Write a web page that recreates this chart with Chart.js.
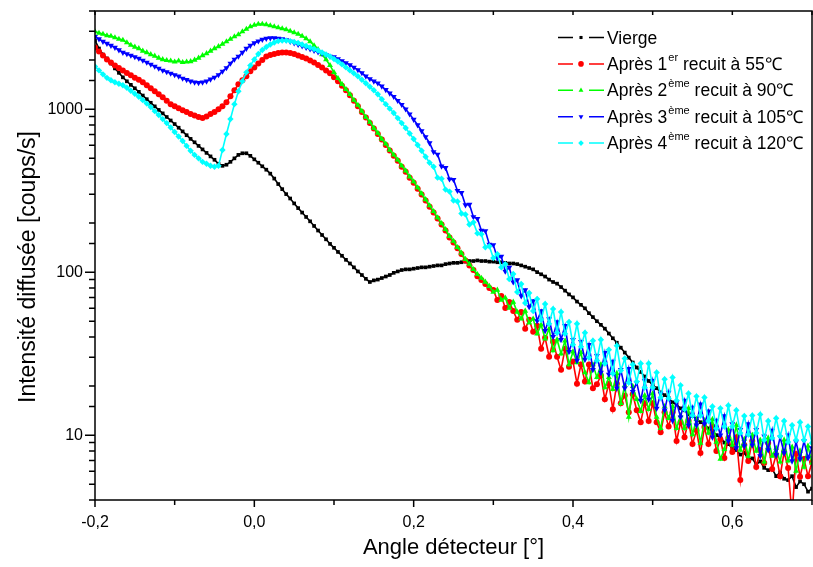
<!DOCTYPE html>
<html>
<head>
<meta charset="utf-8">
<script src="https://cdn.jsdelivr.net/npm/chart.js@4.4.0/dist/chart.umd.min.js"></script>
<style>
  body { margin: 0; background: #ffffff; }
</style>
</head>
<body>
<canvas id="saxs" width="813" height="567"></canvas>
<script>
// detector angle grid [deg]
const angles = [
  -0.2,-0.195,-0.19,-0.185,-0.18,-0.175,-0.17,-0.165,-0.16,-0.155,
  -0.15,-0.145,-0.14,-0.135,-0.13,-0.125,-0.12,-0.115,-0.11,-0.105,
  -0.1,-0.095,-0.09,-0.085,-0.08,-0.075,-0.07,-0.065,-0.06,-0.055,
  -0.05,-0.045,-0.04,-0.035,-0.03,-0.025,-0.02,-0.015,-0.01,-0.005,
  0,0.005,0.01,0.015,0.02,0.025,0.03,0.035,0.04,0.045,
  0.05,0.055,0.06,0.065,0.07,0.075,0.08,0.085,0.09,0.095,
  0.1,0.105,0.11,0.115,0.12,0.125,0.13,0.135,0.14,0.145,
  0.15,0.155,0.16,0.165,0.17,0.175,0.18,0.185,0.19,0.195,
  0.2,0.205,0.21,0.215,0.22,0.225,0.23,0.235,0.24,0.245,
  0.25,0.255,0.26,0.265,0.27,0.275,0.28,0.285,0.29,0.295,
  0.3,0.305,0.31,0.315,0.32,0.325,0.33,0.335,0.34,0.345,
  0.35,0.355,0.36,0.365,0.37,0.375,0.38,0.385,0.39,0.395,
  0.4,0.405,0.41,0.415,0.42,0.425,0.43,0.435,0.44,0.445,
  0.45,0.455,0.46,0.465,0.47,0.475,0.48,0.485,0.49,0.495,
  0.5,0.505,0.51,0.515,0.52,0.525,0.53,0.535,0.54,0.545,
  0.55,0.555,0.56,0.565,0.57,0.575,0.58,0.585,0.59,0.595,
  0.6,0.605,0.61,0.615,0.62,0.625,0.63,0.635,0.64,0.645,
  0.65,0.655,0.66,0.665,0.67,0.675,0.68,0.685,0.69,0.695,
  0.7
];

// scattered intensity [counts/s]
const vierge = [
  2640,2355,2162,2046,1905,1778,1670,1567,1482,1409,
  1343,1277,1212,1151,1094,1040,989,942,895,852,
  810,769,730,692,657,626,595,566,539,513,
  489,462,449,456,475,499,524,536,536,517,
  492,469,446,425,402,375,347,323,301,283,
  264,247,232,218,205,192,180,169,159,149,
  141,133,126,119,113,107,101,96,91,87,
  89,90,92,94,96,99,101,103,104,104,
  105,106,107,107,108,109,110,110,112,113,
  114,114,115,116,117,117,118,117,117,116,
  116,115,115,114,113,113,112,110,108,106,
  104,100,97,94,90,87,85,81,77,73,
  70,66,63,60,56,53,50,47.5,45,42,
  39.3,36.9,34.4,32.1,29.9,27.9,26.0,24.4,22.9,21.5,
  20.3,19.4,18.3,17.6,16.9,15.9,15.4,14.6,14.2,13.4,
  13.1,12.6,12.0,11.6,11.0,10.6,10.0,9.7,9.0,8.8,
  8.3,8.1,7.6,7.8,7.1,7.2,6.6,6.9,6.3,6.1,
  6.2,5.6,5.9,5.4,5.3,5.6,4.8,5.2,5.0,4.5,
  4.7
];
const recuit55 = [
  2388,2258,2135,2018,1935,1855,1790,1729,1669,1612,
  1556,1513,1461,1401,1343,1288,1235,1183,1127,1073,
  1043,1014,986,959,932,913,894,881,900,932,
  959,1000,1043,1103,1200,1306,1421,1503,1590,1705,
  1803,1908,2004,2105,2150,2180,2211,2226,2226,2211,
  2180,2135,2090,2046,1990,1935,1868,1803,1729,1658,
  1567,1482,1391,1306,1217,1127,1043,959,887,821,
  761,704,651,603,558,517,482,443,413,380,
  354,325,299,275,252,232,213,196,180,163,
  152,140,129,118,110,103,94.5,89.4,84.5,79.9,
  77.7,67.5,71.4,60.3,65.6,57.8,51,57,44.9,51,
  43.1,46.9,33.9,39.6,30.3,37.4,30.3,25.2,33.9,26.3,
  28.3,20.7,27.1,21.3,27.1,19.4,20.5,23.2,16.6,20.7,
  14.4,20.7,15.7,17.5,13.8,17.8,14.2,12,15.7,12.2,
  15.7,12,10.4,13.8,11.3,13.8,9.2,12,9.7,12.3,
  8.81,10.7,7.77,11.2,8.81,11.3,8,9.45,7.24,9.59,
  7.88,9.72,5.3,8.69,6.95,9.2,6.38,8.1,6.75,8.94,
  6.2,7.55,5.6,7.88,6.29,3.2,7.66,5.55,7.14,5.6,
  6.85
];
const recuit90 = [
  2990,2927,2886,2826,2807,2748,2690,2653,2562,2473,
  2405,2355,2274,2226,2165,2120,2061,2018,1990,1976,
  1949,1976,1935,1949,1962,2004,2061,2135,2195,2274,
  2355,2422,2507,2598,2690,2787,2866,2990,3096,3207,
  3276,3322,3322,3299,3252,3207,3162,3118,3075,3011,
  2948,2886,2807,2710,2598,2455,2322,2165,2018,1855,
  1681,1545,1421,1325,1235,1135,1058,972,894,833,
  766,714,656,612,562,524,489,449,419,385,
  359,330,303,279,256,236,216,199,183,166,
  155,142,131,120,112,104,97,92,87,82,
  75.5,77.7,67.5,69.5,60.3,65.6,57,51.7,57.8,48.9,
  51.7,41.9,47.5,39,44.9,33,38.5,31.6,37.9,27.1,
  32.5,27.9,32.1,24.2,21,27.1,22.6,27.1,19.6,22.6,
  19.1,23.9,15.7,20.2,12.9,19.9,16.6,14,17.5,14.4,
  18,12.9,11,15,12.7,15,11,13.2,11,14.6,
  10.1,12.5,8.94,12.3,10.3,12.5,9.07,7.14,8.2,10.8,
  8.69,11.5,8.1,9.45,7.45,10,8,9.32,6.85,9.59,
  7.45,8.33,6.85,9.32,6.95,8.45,6.03,8,6.38,8.57,
  6.75
];
const recuit105 = [
  2787,2691,2598,2526,2455,2388,2306,2226,2180,2135,
  2090,2046,1990,1935,1881,1829,1778,1729,1693,1658,
  1623,1590,1545,1513,1482,1461,1451,1461,1482,1524,
  1567,1623,1705,1790,1908,2018,2105,2226,2355,2455,
  2544,2615,2672,2710,2729,2729,2710,2691,2653,2598,
  2544,2490,2438,2388,2338,2290,2242,2195,2150,2105,
  2090,2032,1976,1922,1868,1803,1741,1669,1590,1534,
  1482,1442,1381,1315,1252,1192,1127,1065,1000,932,
  863,799,734,675,620,547,528,446,437,372,
  369,316,307,258,260,218,213,180,179,148,
  147,122,125,101,107,86.9,89.4,71.4,77.7,61.2,
  66.6,50.2,57.8,43.7,51.7,40.2,49.5,38.5,46.9,32.5,
  38.5,28.7,37.4,29.1,35.9,25.2,30.7,24.2,32.1,23.6,
  28.3,19.4,25.2,19.4,25.6,18.5,21,16.3,21.6,16.6,
  21.6,14.6,18,14.2,18.3,12.3,15.9,12.9,16.3,11.5,
  14.8,11.5,15.5,11.7,14,9.72,12.3,10,13.1,9.2,
  11.7,8.33,10.8,8.57,11.7,8.69,10.8,7.45,9.86,8.1,
  10.7,7.55,9.72,7.77,10,6.95,9.07,7.14,9.2,7.24,
  8.33
];
const recuit120 = [
  1829,1729,1635,1556,1503,1461,1431,1401,1352,1297,
  1244,1192,1135,1081,1029,972,920,869,821,772,
  724,680,638,595,555,524,499,475,462,449,
  443,449,562,704,869,1073,1288,1482,1681,1855,
  2018,2180,2306,2405,2490,2562,2615,2634,2634,2615,
  2580,2544,2490,2438,2388,2338,2290,2226,2165,2105,
  2032,1962,1881,1803,1729,1658,1590,1513,1442,1371,
  1306,1235,1151,1073,1007,946,881,821,766,709,
  656,603,555,510,469,443,380,374,321,312,
  275,271,229,226,196,202,173,171,142,144,
  122,129,107,112,90.6,97.3,75.5,84.5,64.7,74.5,
  57.8,68.5,51,63.8,48.2,59.5,42.5,57,41.9,49.5,
  35.9,48.2,34.9,42.5,29.9,37.9,28.7,38.5,27.5,33.4,
  23.9,35.4,24.9,29.5,21,27.1,21.3,27.5,19.6,27.5,
  19.6,24.2,17,22,16.8,22.6,16.3,20.2,14.4,18,
  13.2,17.3,13.2,17,12.2,15,11,14.6,11.3,15.2,
  11.3,14.2,10.3,13.1,10.1,13.2,10.3,13.4,9.32,12.2,
  9.59,12.7,9.86,12.2,9.07,11.5,9.32,12,9.32,11.3,
  8.94
];

// legend text: [before superscript, superscript, after]
const seriesNames = [
  ['Vierge', '', ''],
  ['Après 1', 'er', ' recuit à 55℃'],
  ['Après 2', 'ème', ' recuit à 90℃'],
  ['Après 3', 'ème', ' recuit à 105℃'],
  ['Après 4', 'ème', ' recuit à 120℃']
];
const seriesValues = [vierge, recuit55, recuit90, recuit105, recuit120];
const seriesColors = ['#000000', '#ff0000', '#00ff00', '#0000ff', '#00ffff'];
const seriesMarkers = ['rect', 'circle', 'triangle', 'triangle', 'rectRot'];
const seriesRotation = [0, 0, 0, 180, 0];
const seriesRadius = [2.6, 3, 3.4, 3.4, 3.2];
const yLabelTicks = [10, 100, 1000];
const yTitle = 'Intensité diffusée [coups/s]';
const xTitle = 'Angle détecteur [°]';

const FONT = '"Liberation Sans", Arial, sans-serif';

function toPoints(vals) {
  return angles.map((a, i) => ({ x: a, y: vals[i] }));
}

const datasets = seriesValues.map((vals, i) => ({
  label: seriesNames[i].join(''),
  data: toPoints(vals),
  borderColor: seriesColors[i],
  backgroundColor: seriesColors[i],
  borderWidth: 1.6,
  pointStyle: seriesMarkers[i],
  rotation: seriesRotation[i],
  pointRadius: seriesRadius[i],
  pointBorderWidth: 0,
  tension: 0,
  order: 5 - i // later series drawn on top, like the original
}));

// box around plot + tick marks (majors longer) + y title
const frame = {
  id: 'frame',
  afterDatasetsDraw(chart) {
    const { ctx, chartArea: a, scales } = chart;
    ctx.save();
    ctx.strokeStyle = '#000';
    ctx.lineWidth = 1.5;
    ctx.strokeRect(a.left, a.top, a.right - a.left, a.bottom - a.top);
    ctx.beginPath();
    scales.y.ticks.forEach(t => {
      const py = scales.y.getPixelForValue(t.value);
      const len = yLabelTicks.includes(t.value) ? 10 : 6;
      ctx.moveTo(a.left - len, py);
      ctx.lineTo(a.left, py);
    });
    scales.x.ticks.forEach(t => {
      const px = scales.x.getPixelForValue(t.value);
      const len = Math.round(t.value * 10) % 2 === 0 ? 7 : 5;
      ctx.moveTo(px, a.bottom);
      ctx.lineTo(px, a.bottom + len);
      ctx.moveTo(px, a.top);
      ctx.lineTo(px, a.top + 4);
    });
    ctx.stroke();

    // the original's y title sits a little below the middle of the axis
    ctx.translate(29, 267);
    ctx.rotate(-Math.PI / 2);
    ctx.fillStyle = '#000';
    ctx.font = '23px ' + FONT;
    ctx.textAlign = 'center';
    ctx.textBaseline = 'middle';
    ctx.fillText(yTitle, 0, 0);
    ctx.restore();
  }
};

// legend with superscripts, drawn by hand
const legendBox = {
  id: 'legendBox',
  afterDraw(chart) {
    const ctx = chart.ctx;
    ctx.save();
    seriesNames.forEach((parts, i) => {
      const y = 37.5 + i * 26.4;
      const c = seriesColors[i];
      ctx.strokeStyle = c;
      ctx.lineWidth = 1.5;
      ctx.beginPath();
      ctx.moveTo(558, y); ctx.lineTo(573, y);
      ctx.moveTo(589, y); ctx.lineTo(604, y);
      ctx.stroke();
      ctx.fillStyle = c;
      Chart.helpers.drawPoint(ctx, {
        pointStyle: seriesMarkers[i], rotation: seriesRotation[i],
        radius: i === 0 ? 2.2 : 2.8, borderWidth: 0
      }, 581, y);

      ctx.fillStyle = '#000';
      ctx.textBaseline = 'alphabetic';
      ctx.textAlign = 'left';
      const base = y + 6;
      let x = 607;
      ctx.font = '17.5px ' + FONT;
      ctx.fillText(parts[0], x, base);
      x += ctx.measureText(parts[0]).width;
      if (parts[1]) {
        ctx.font = '11px ' + FONT;
        ctx.fillText(parts[1], x + 1, base - 9);
        x += ctx.measureText(parts[1]).width + 1;
        ctx.font = '17.5px ' + FONT;
        ctx.fillText(parts[2], x, base);
      }
    });
    ctx.restore();
  }
};

new Chart(document.getElementById('saxs'), {
  type: 'line',
  data: { datasets: datasets },
  options: {
    responsive: false,
    animation: false,
    layout: { autoPadding: false, padding: { top: 11, right: 1, left: 0, bottom: 0 } },
    plugins: { legend: { display: false }, tooltip: { enabled: false } },
    scales: {
      x: {
        type: 'linear',
        min: -0.2,
        max: 0.7,
        grid: { display: false, drawTicks: false },
        border: { display: false },
        ticks: {
          stepSize: 0.1,
          autoSkip: false,
          maxRotation: 0,
          padding: 13,
          color: '#000',
          font: { family: FONT, size: 16 },
          callback: v => {
            const n = Math.round(v * 10);
            return n % 2 === 0 ? (n / 10).toFixed(1).replace('.', ',') : '';
          }
        },
        title: {
          display: true,
          text: xTitle,
          color: '#000',
          font: { family: FONT, size: 22 },
          padding: { top: 0, bottom: 6 }
        },
        afterFit: s => { s.height = 67; s.paddingLeft = 0; s.paddingRight = 0; }
      },
      y: {
        type: 'logarithmic',
        min: 4,
        max: 4000,
        grid: { display: false, drawTicks: false },
        border: { display: false },
        ticks: {
          autoSkip: false,
          padding: 12,
          color: '#000',
          font: { family: FONT, size: 16 },
          callback: v => yLabelTicks.includes(v) ? String(v) : ''
        },
        title: { display: false },
        afterFit: s => { s.width = 95; s.paddingTop = 0; s.paddingBottom = 0; }
      }
    }
  },
  plugins: [frame, legendBox]
});
</script>
</body>
</html>
